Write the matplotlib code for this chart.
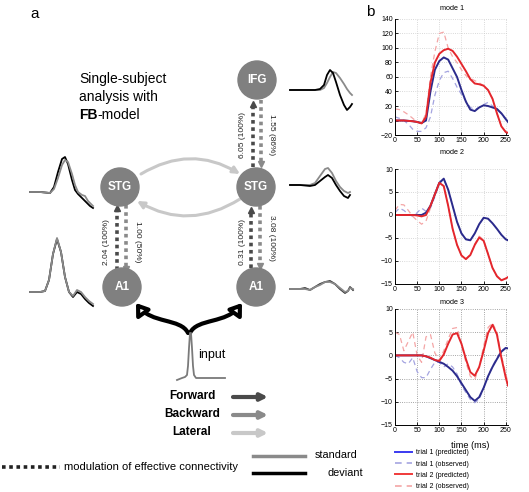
import numpy as np
import matplotlib.pyplot as plt
from matplotlib.patches import Circle, FancyArrowPatch
from matplotlib.path import Path
from matplotlib.lines import Line2D

plt.rcParams['font.family'] = ['Liberation Sans', 'DejaVu Sans']

# ---- data: right panel (time in ms) ----
t = [0, 10, 20, 30, 40, 50, 60, 70, 80, 90, 100, 110, 120, 130, 140, 150,
     160, 170, 180, 190, 200, 210, 220, 230, 240, 250, 255]

m1_t1_pred = [0, 0, 0, -0.5, -1, -2, -3.5, 0, 40, 70, 82, 87, 84, 72, 60, 42,
              26, 15, 13, 18, 21, 20, 18, 16, 10, 2, -2]
m1_t1_obs = [5, 3, 0, -5, -12, -15, -15, -10, 5, 35, 55, 66, 68, 58, 46, 36,
             27, 18, 15, 18, 22, 25, 20, 15, 9, 1, -2]
m1_t2_pred = [0, 0, 0, -0.5, -1, -2, -4, 5, 52, 80, 92, 97, 99, 96, 88, 78,
              68, 57, 51, 50, 48, 42, 30, 10, -8, -16, -17]
m1_t2_obs = [16, 15, 12, 8, 3, -2, -4, 10, 60, 95, 120, 122, 100, 88, 80, 70,
             62, 58, 55, 52, 48, 42, 30, 10, -8, -16, -17]

m2_t1_pred = [0, 0, 0, 0, 0, 0, 0, 0.5, 2, 4.5, 7, 7.9, 5.5, 2, -1.5, -4,
              -5.3, -5.5, -4, -2, -0.6, -0.8, -1.8, -3, -4.3, -5.3, -5.5]
m2_t1_obs = [0.5, 1.5, 1, 0.2, -0.3, 0.5, 1.5, 0.8, 1.5, 4, 6.8, 7.7, 5.6, 2, -1.5, -4,
             -5.2, -5.5, -4, -2, -0.7, -0.8, -1.8, -3, -4.3, -5.3, -5.5]
m2_t2_pred = [0, 0, 0, 0, 0, -0.1, -0.3, 0, 2, 4.5, 7, 6.3, 2, -3, -6.5, -8.8,
              -9.6, -8.7, -6.5, -4.9, -5.6, -8.5, -11.5, -13.3, -14.2, -13.8, -13.5]
m2_t2_obs = [1, 2.3, 2.2, 1, -0.3, -1.2, -2, -1.3, 1.5, 4.8, 7, 6.2, 2, -3, -6.5, -8.8,
             -9.5, -8.6, -6.3, -4.6, -5.4, -8.4, -11.5, -13.4, -14.3, -13.8, -13.5]

m3_t1_pred = [0, 0, 0, 0, 0, 0, 0, -0.2, -0.6, -1, -1.4, -1.8, -2.5, -3.3, -4.5, -6,
              -7.5, -9, -9.8, -9, -7, -4.5, -2.5, -0.8, 0.8, 1.6, 1.5]
m3_t1_obs = [0, -0.5, -1.5, -1.8, -0.5, -3.5, -4.8, -4.8, -3, -1.5, -1.5, -2.5, -1.8, -2.5, -4, -6.5,
             -8, -9.5, -10.2, -9.5, -7, -4.5, -2.3, -0.5, 1, 1.7, 1.5]
m3_t2_pred = [0, 0, 0, 0, 0, 0, 0, -0.2, -0.5, -1, -1.2, 0.2, 2.5, 4.5, 4.8, 2.5,
              -0.8, -3.6, -4.4, -2.5, 1, 4.8, 6.6, 4.5, -0.5, -4.8, -6.5]
m3_t2_obs = [5, 4.5, 1, 3, 5, 0, -1.5, 4, 4.5, 0.5, -1, 1, 3.5, 5.8, 6, 2.5,
             -1.5, -4.5, -5.2, -2.5, 2, 6, 7, 5, 0, -4, -6]

modes = ['mode 1', 'mode 2', 'mode 3']
series_labels = ['trial 1 (predicted)', 'trial 1 (observed)',
                 'trial 2 (predicted)', 'trial 2 (observed)']

# ---- data: left diagram ----
node_names = ['IFG', 'STG', 'STG', 'A1', 'A1']
conn_labels = ['6.05 (100%)', '1.55 (86%)', '2.04 (100%)', '1.00 (50%)',
               '0.31 (100%)', '3.08 (100%)']
conn_types = ['Forward', 'Backward', 'Lateral']

# small source waveforms (x in px from onset, amplitude in px)
ifg_t = [0, 10, 20, 25, 30, 34, 37, 40, 43, 46, 50, 54, 57, 60, 62]
ifg_std = [0, 0, 0, 0, 0, 2, 7, 13, 18, 17, 12, 6, 1, -3, -5]
ifg_dev = [0, 0, 0, 0, 1, 5, 15, 20, 17, 8, -5, -15, -20, -17, -14]

stgr_t = [0, 10, 20, 25, 30, 35, 38, 42, 46, 50, 54, 58, 60]
stgr_std = [0, 0, 0, 2, 9, 16, 17, 12, 4, -2, -6, -8, -7]
stgr_dev = [0, 0, -1, 0, 4, 8, 10, 7, 0, -6, -11, -13, -10]

stgl_t = [0, 10, 20, 24, 28, 32, 35, 38, 42, 45, 48, 52, 55, 58, 60, 63]
stgl_std = [0, 0, -1, 3, 14, 27, 32, 30, 18, 7, 0, -3, -4, -9, -11, -14]
stgl_dev = [0, 0, -1, 5, 20, 33, 35, 28, 12, 2, -2, -6, -9, -12, -14, -16]

a1l_t = [0, 10, 15, 19, 23, 27, 31, 35, 39, 43, 47, 51, 55, 59, 63]
a1l_std = [0, 0, 1, 12, 38, 54, 40, 15, 0, -4, 2, 0, -5, -9, -12]
a1l_dev = [0, 0, 1, 12, 38, 53, 40, 15, 0, -5, 0, -2, -7, -11, -14]

a1r_t = [0, 5, 10, 15, 20, 25, 30, 35, 40, 45, 50, 55, 58, 60, 63]
a1r_std = [0, 0, 0, 0, -1, 2, 4, 7, 7, 5, 1, -3, -2, 1, 0]
a1r_dev = [0, 0, 0, 1, -1, 2, 5, 7, 8, 5, 0, -4, -2, 2, -1]

inp_t = [0, 5, 8, 10, 11, 12, 13, 14, 15, 16, 17, 19, 24, 32, 40, 48]
inp_v = [-2, 0, 1, 3, 12, 30, 45, 45, 30, 12, 3, 0, 0, 0, 0, 0]

fig = plt.figure(figsize=(5.29, 4.92), dpi=100)

# ---------------- panel a: diagram in pixel coordinates ----------------
ax0 = fig.add_axes([0, 0, 1, 1])
ax0.set_xlim(0, 529)
ax0.set_ylim(492, 0)
ax0.axis('off')

ax0.text(30, 14, 'a', fontsize=11, va='center')
ax0.text(366, 12, 'b', fontsize=11, va='center')

ax0.text(79, 83, 'Single-subject', fontsize=10)
ax0.text(79, 101, 'analysis with', fontsize=10)
fb = ax0.text(79, 119, 'FB', fontsize=10, fontweight='bold')
ax0.annotate('-model', xy=(1, 0), xycoords=fb, fontsize=10, va='bottom')

node_pos = [(257, 80), (120, 187), (256, 187), (122, 287), (256, 287)]
for name, (x, y) in zip(node_names, node_pos):
    ax0.add_patch(Circle((x, y), 19, color='#808080', zorder=3))
    ax0.text(x, y, name, color='white', fontsize=8.5, fontweight='bold',
             ha='center', va='center', zorder=4)

fwd_c, bwd_c, lat_c = '#4a4a4a', '#8a8a8a', '#c8c8c8'


def dotted(x, y_from, y_to, color):
    up = y_to < y_from
    end = y_to + 5 if up else y_to - 5
    ax0.plot([x, x], [y_from, end], color=color, lw=2.6, ls=(0, (1, 1)),
             dash_capstyle='butt', zorder=2)
    ax0.plot(x, y_to + 2.5 if up else y_to - 2.5, marker='^' if up else 'v',
             ms=5, color=color, zorder=2)


dotted(253, 167, 101, fwd_c)
dotted(261, 100, 166, bwd_c)
dotted(117, 270, 205, fwd_c)
dotted(126, 205, 271, bwd_c)
dotted(251, 268, 207, fwd_c)
dotted(260, 206, 268, bwd_c)

label_pos = [(242, 135, 90), (272, 135, 270), (107, 242, 90), (137, 242, 270),
             (243, 242, 90), (271, 238, 270)]
for lab, (x, y, r) in zip(conn_labels, label_pos):
    ax0.text(x, y, lab, fontsize=6, rotation=r, ha='center', va='center',
             color='#222222')

# lateral connections
ax0.add_patch(FancyArrowPatch((141, 174), (240, 174), connectionstyle='arc3,rad=-0.3',
                              arrowstyle='-|>', mutation_scale=10, color=lat_c, lw=2.2,
                              shrinkA=0, shrinkB=0, zorder=1))
ax0.add_patch(FancyArrowPatch((240, 199), (137, 201), connectionstyle='arc3,rad=-0.3',
                              arrowstyle='-|>', mutation_scale=10, color=lat_c, lw=2.2,
                              shrinkA=0, shrinkB=0, zorder=1))

# input arrows (wishbone shape)
codes = [Path.MOVETO, Path.CURVE4, Path.CURVE4, Path.CURVE4]
for side in (-1, 1):
    verts = [(189 + 1 * side, 333), (189 + 8 * side, 318), (189 + 38 * side, 324),
             (189 + 53 * side, 303)]
    ax0.add_patch(FancyArrowPatch(path=Path(verts, codes),
                                  arrowstyle='-|>,head_length=0.5,head_width=0.35',
                                  mutation_scale=13, lw=3, ec='black', fc='white',
                                  zorder=2))


def wave(x0, y0, tt, vv, color):
    ax0.plot(x0 + np.array(tt), y0 - np.array(vv), color=color, lw=1.3)


wave(290, 90, ifg_t, ifg_std, '#8a8a8a')
wave(290, 90, ifg_t, ifg_dev, 'black')
wave(290, 185, stgr_t, stgr_std, '#8a8a8a')
wave(290, 185, stgr_t, stgr_dev, 'black')
wave(30, 192, stgl_t, stgl_dev, 'black')
wave(30, 192, stgl_t, stgl_std, '#8a8a8a')
wave(30, 292, a1l_t, a1l_dev, 'black')
wave(30, 292, a1l_t, a1l_std, '#8a8a8a')
wave(290, 289, a1r_t, a1r_dev, '#333333')
wave(290, 289, a1r_t, a1r_std, '#8a8a8a')
wave(177, 378, inp_t, inp_v, '#7a7a7a')
ax0.text(198, 355, 'input', fontsize=9, va='center')

# connection-type key
for i, (name, c) in enumerate(zip(conn_types, [fwd_c, bwd_c, lat_c])):
    y = 396 + i * 18
    ax0.text(192, y, name, fontsize=8.5, fontweight='bold', ha='center', va='center')
    ax0.add_patch(FancyArrowPatch((233, y + 1), (268, y + 1), arrowstyle='-|>',
                                  mutation_scale=10, color=c, lw=3, shrinkA=0, shrinkB=0))

ax0.plot([2, 60], [467, 467], color='#222222', lw=2.6, ls=(0, (1, 1)),
         dash_capstyle='butt')
ax0.text(64, 467, 'modulation of effective connectivity', fontsize=8, va='center')
ax0.plot([253, 305], [456, 456], color='#8a8a8a', lw=2.5)
ax0.plot([253, 305], [473, 473], color='black', lw=2.5)
ax0.text(315, 455, 'standard', fontsize=7.8, va='center')
ax0.text(327, 473, 'deviant', fontsize=7.8, va='center')

# ---------------- panel b: mode time courses ----------------
pred1_c, obs1_c = '#2b2b8c', '#a4a4e0'
pred2_c, obs2_c = '#e4262c', '#f4a6a6'
data = [(m1_t1_pred, m1_t1_obs, m1_t2_pred, m1_t2_obs),
        (m2_t1_pred, m2_t1_obs, m2_t2_pred, m2_t2_obs),
        (m3_t1_pred, m3_t1_obs, m3_t2_pred, m3_t2_obs)]
boxes = [[0.7467, 0.7256, 0.2136, 0.2358],
         [0.7467, 0.4228, 0.2136, 0.2337],
         [0.7467, 0.1362, 0.2136, 0.2358]]
title_y = [8, 152, 302]
ylims = [(-20, 140), (-15, 10), (-15, 10)]
yticks = [np.arange(-20, 141, 20), np.arange(-15, 11, 5), np.arange(-15, 11, 5)]

for i, (box, (p1, o1, p2, o2)) in enumerate(zip(boxes, data)):
    ax = fig.add_axes(box)
    ax.plot(t, o1, color=obs1_c, lw=0.9, ls=(0, (4, 3)))
    ax.plot(t, o2, color=obs2_c, lw=0.9, ls=(0, (4, 3)))
    ax.plot(t, p1, color=pred1_c, lw=1.4)
    ax.plot(t, p2, color=pred2_c, lw=1.4)
    ax.set_xlim(0, 255)
    ax.set_ylim(*ylims[i])
    ax.set_xticks(np.arange(0, 251, 50))
    ax.set_yticks(yticks[i])
    ax.grid(True, ls=':', lw=0.6, color='#888888' if i == 2 else '#cccccc')
    for s in ['top', 'right']:
        ax.spines[s].set_visible(False)
    for s in ['left', 'bottom']:
        ax.spines[s].set_linewidth(0.7)
    ax.tick_params(direction='in', length=2, width=0.6, labelsize=5, pad=1.5)
    fig.text(0.855, 1 - title_y[i] / 492, modes[i], fontsize=5.2,
             ha='center', va='center')

fig.text(0.888, 1 - 445 / 492, 'time (ms)', fontsize=6.6, ha='center', va='center')

handles = [Line2D([], [], color='#3a3af0', lw=1.4),
           Line2D([], [], color=obs1_c, lw=1.2, ls=(0, (4, 3))),
           Line2D([], [], color='#f03a3a', lw=1.4),
           Line2D([], [], color=obs2_c, lw=1.2, ls=(0, (4, 3)))]
fig.legend(handles, series_labels, loc='upper left',
           bbox_to_anchor=(392 / 529, 1 - 446 / 492), frameon=False,
           fontsize=5, handlelength=2.4, labelspacing=0.6, borderpad=0,
           handletextpad=0.6)

fig.savefig('out.png', dpi=100)
